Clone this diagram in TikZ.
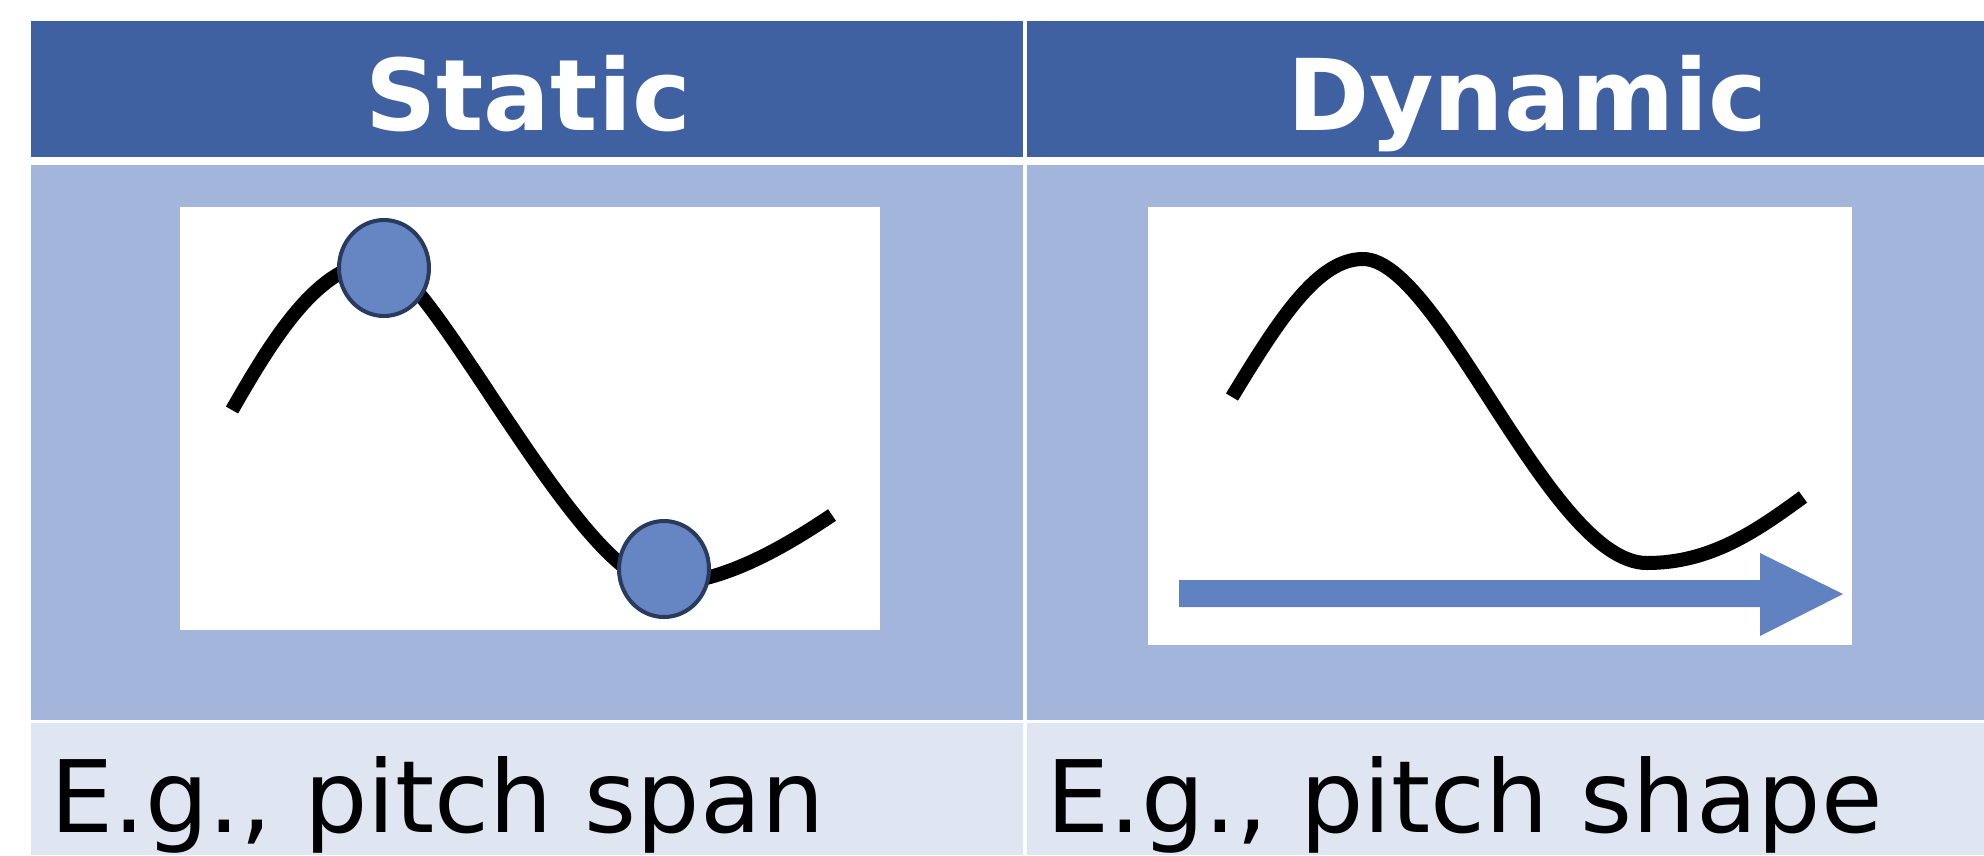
\documentclass[tikz,border=0pt]{standalone}
\usepackage{fontspec}
\setsansfont{DejaVu Sans}
\usetikzlibrary{shapes.geometric}

\definecolor{headblue}{HTML}{3F61A2}
\definecolor{bodyblue}{HTML}{A3B5DB}
\definecolor{noteblue}{HTML}{DFE5F1}
\definecolor{dotblue}{HTML}{6685C3}
\definecolor{dotrim}{HTML}{283A5E}
\definecolor{arrowblue}{HTML}{6182C0}

\begin{document}
\begin{tikzpicture}[
    x=1pt, y=-1pt,
    head text/.style={text=white, font=\sffamily\bfseries\fontsize{99}{110}\selectfont, anchor=base, inner sep=0pt},
    note text/.style={text=black, font=\sffamily\fontsize{100}{112}\selectfont, anchor=base west, inner sep=0pt},
    pitch curve/.style={line width=14pt, draw=black},
    marker/.style={ellipse, draw=dotrim, fill=dotblue, line width=4pt, minimum width=90pt, minimum height=96pt, inner sep=0pt}
]
\useasboundingbox (0,0) rectangle (1984,855);

% Tabelle: Kopfzeile, Bildzeile, Beispielzeile
\fill[headblue] (31,21)   rectangle (1023,157);
\fill[headblue] (1027,21) rectangle (1984,157);
\fill[bodyblue] (31,165)   rectangle (1023,720);
\fill[bodyblue] (1027,165) rectangle (1984,720);
\fill[noteblue] (31,723)   rectangle (1023,855);
\fill[noteblue] (1027,723) rectangle (1984,855);

\node[head text] (hStatic)  at (528,130)  {Static};
\node[head text] (hDynamic) at (1527,130) {Dynamic};

% statisch: Extremwerte der Kontur markiert
\fill[white] (180,207) rectangle (880,630);
\draw[pitch curve] (232,410) .. controls (275,335) and (320,262) .. (380,262)
    .. controls (430,262) and (580,584) .. (662,584)
    .. controls (720,584) and (780,550) .. (832,515);
\node[marker] (mPeak)   at (384,268) {};
\node[marker] (mTrough) at (664,569) {};

% dynamisch: Verlauf ueber die Zeit
\fill[white] (1148,207) rectangle (1852,645);
\draw[pitch curve] (1232,397) .. controls (1280,318) and (1318,259) .. (1363,259)
    .. controls (1440,259) and (1550,563) .. (1647,563)
    .. controls (1710,563) and (1755,532) .. (1803,497);
\fill[arrowblue] (1179,580) -- (1760,580) -- (1760,553) -- (1843,594)
    -- (1760,636) -- (1760,607) -- (1179,607) -- cycle;

\node[note text] (nSpan)  at (50,832)   {E.g., pitch span};
\node[note text] (nShape) at (1046,832) {E.g., pitch shape};

\end{tikzpicture}
\end{document}
